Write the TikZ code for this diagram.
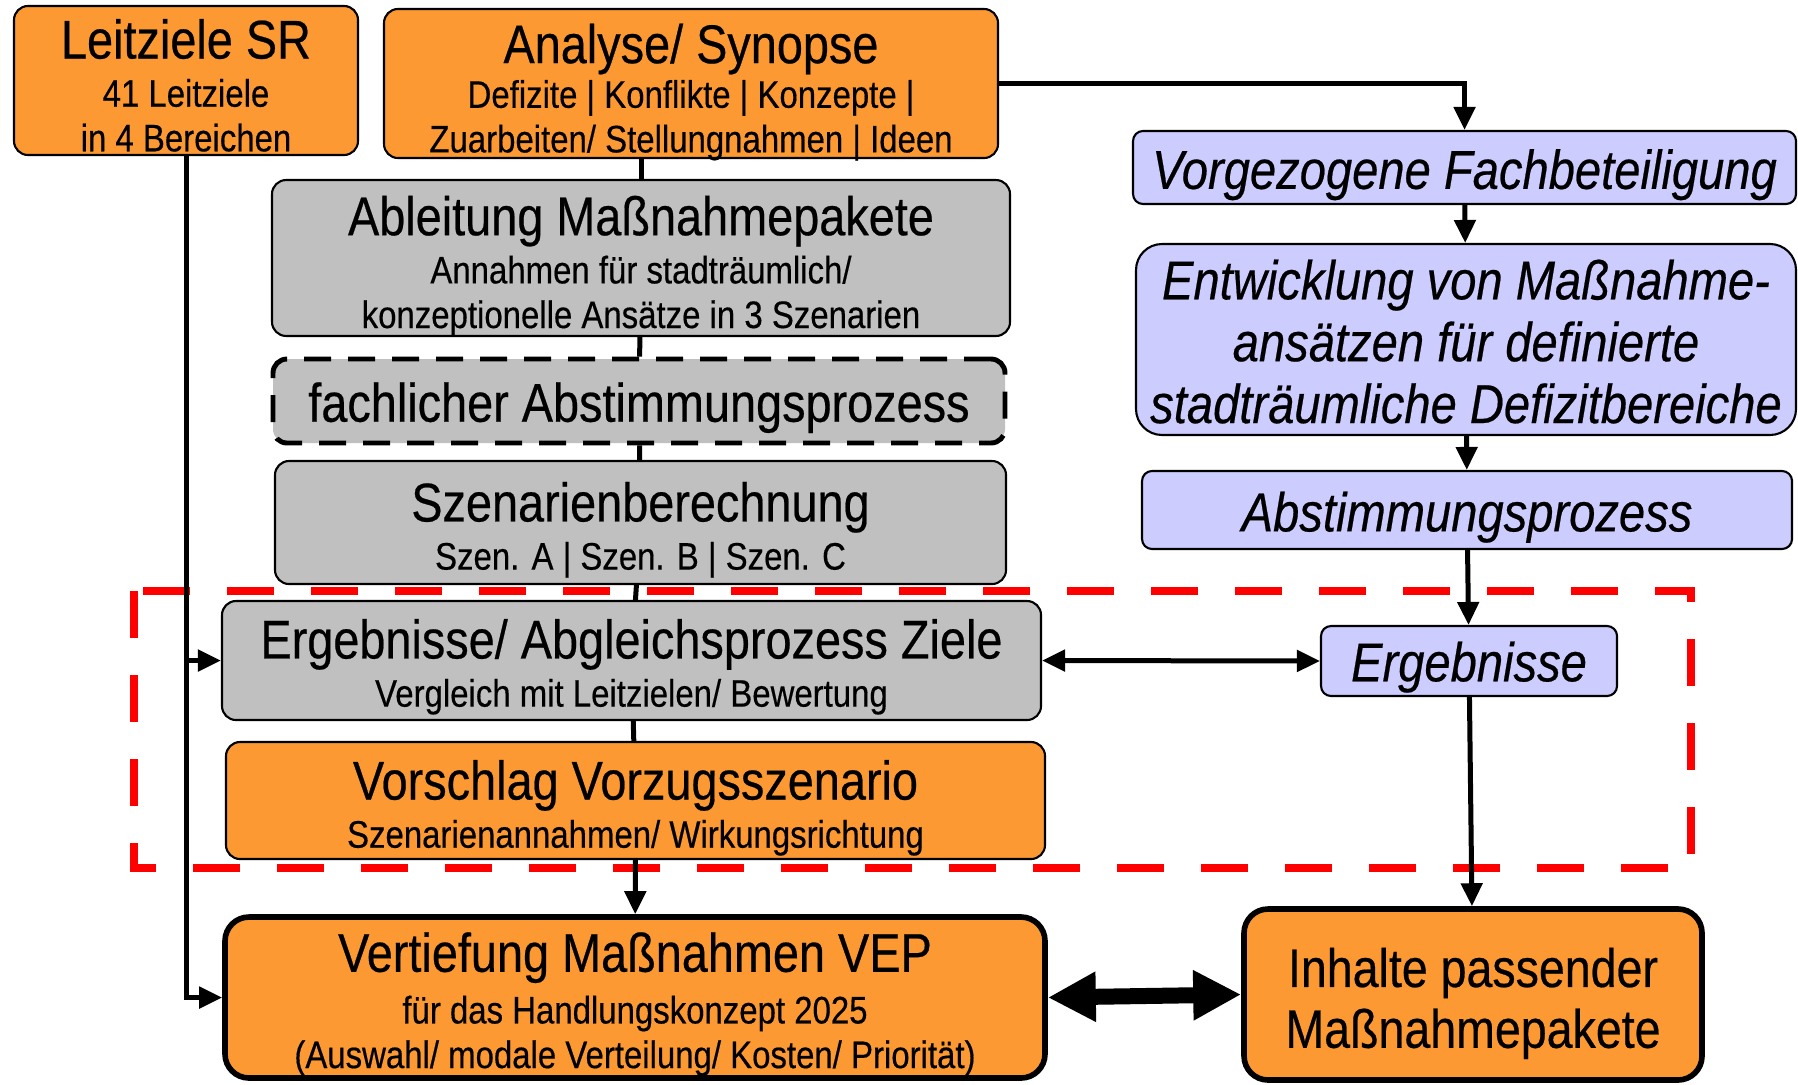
\documentclass[tikz,border=0pt]{standalone}
\usepackage{fontspec}
\setmainfont{Liberation Sans}[FakeStretch=0.86, FakeBold=0.4]
\usepackage{tikz}
\usetikzlibrary{arrows.meta}
\definecolor{vorange}{RGB}{253,153,51}
\definecolor{vgrey}{RGB}{192,192,192}
\definecolor{vlilac}{RGB}{204,204,255}
\definecolor{vred}{RGB}{255,0,0}
% title line of a box, with a strut that pushes the text a little down
\newcommand{\boxhead}[2][15.2pt]{{\fontsize{15.5}{18}\selectfont\rule{0pt}{#1}#2}}

\begin{document}
\begin{tikzpicture}[x=0.1mm, y=-0.1mm,
  box/.style={draw, rounded corners=1.4mm, line width=0.6pt, align=center, inner sep=0pt,
    font=\fontsize{10.9}{12.7}\selectfont},
  orangebox/.style={box, fill=vorange},
  greybox/.style={box, fill=vgrey},
  lilacbox/.style={box, fill=vlilac, rounded corners=1mm, font=\fontsize{15.6}{17.6}\selectfont\itshape},
  thickbox/.style={line width=1.6pt, rounded corners=2.4mm},
  conn/.style={line width=0.5mm},
  arr/.style={conn, -{Triangle[length=2.3mm, width=2.1mm]}},
  dblarr/.style={conn, {Triangle[length=2.3mm, width=2.1mm]}-{Triangle[length=2.3mm, width=2.1mm]}},
  bigarr/.style={line width=1.6mm, {Triangle[length=4.8mm, width=4.7mm]}-{Triangle[length=4.8mm, width=4.7mm]}}]
\useasboundingbox (0,0) rectangle (1798,1084);

% left column
\node[orangebox, minimum width=34.4mm, minimum height=14.9mm] (leit) at (186,80.5)
  {\boxhead[14pt]{Leitziele SR}\\[1pt]41 Leitziele\\in 4 Bereichen};
\node[orangebox, text height=40.8pt, text depth=1.6pt, minimum width=61.4mm, minimum height=14.9mm] (ana) at (691,83.5)
  {\boxhead[0pt]{Analyse/ Synopse}\\Defizite | Konflikte | Konzepte |\\Zuarbeiten/ Stellungnahmen | Ideen};
\node[greybox, minimum width=73.8mm, minimum height=15.4mm] (abl) at (641,258)
  {\boxhead[15.7pt]{Ableitung Maßnahmepakete}\\[1pt]Annahmen für stadträumlich/\\konzeptionelle Ansätze in 3 Szenarien};
\node[greybox, dash pattern=on 2.7mm off 1.7mm, line width=1.4pt, minimum width=73.2mm, minimum height=8.4mm] (fach) at (639,401)
  {\boxhead[15pt]{fachlicher Abstimmungsprozess}};
\node[greybox, minimum width=73.1mm, minimum height=12.3mm] (szen) at (640.5,522.5)
  {\boxhead[15.4pt]{Szenarienberechnung}\\[1pt]Szen. A | Szen. B | Szen. C};
\node[greybox, minimum width=81.9mm, minimum height=11.9mm] (abgl) at (631.5,660.5)
  {\boxhead[14.8pt]{Ergebnisse/ Abgleichsprozess Ziele}\\[1pt]Vergleich mit Leitzielen/ Bewertung};
\node[orangebox, minimum width=81.9mm, minimum height=11.7mm] (vors) at (635.5,800.5)
  {\boxhead[15.4pt]{Vorschlag Vorzugsszenario}\\[1pt]Szenarienannahmen/ Wirkungsrichtung};
\node[orangebox, thickbox, minimum width=82mm, minimum height=16.1mm] (vert) at (635,997.5)
  {\boxhead[15pt]{Vertiefung Maßnahmen VEP}\\[2pt]für das Handlungskonzept 2025\\(Auswahl/ modale Verteilung/ Kosten/ Priorität)};

% right column
\node[lilacbox, minimum width=66.3mm, minimum height=7.3mm] (vorg) at (1464.5,167.5)
  {\rule{0pt}{15.4pt}Vorgezogene Fachbeteiligung};
\node[lilacbox, rounded corners=2.6mm, minimum width=66mm, minimum height=19.1mm] (entw) at (1466,339.5)
  {\rule{0pt}{12.5pt}Entwicklung von Maßnahme-\\ansätzen für definierte\\stadträumliche Defizitbereiche};
\node[lilacbox, minimum width=65mm, minimum height=7.8mm] (abst) at (1467,510)
  {\rule{0pt}{15.4pt}Abstimmungsprozess};
\node[lilacbox, minimum width=29.6mm, minimum height=7mm] (erg) at (1469,661)
  {\rule{0pt}{14.8pt}Ergebnisse};
\node[orangebox, thickbox, font=\fontsize{15.4}{17.3}\selectfont, minimum width=45.8mm, minimum height=17.1mm] (inh) at (1473,994.5)
  {\rule{0pt}{16.2pt}Inhalte passender\\Maßnahmepakete};

% red frame
\draw[vred, line width=2.5pt, dash pattern=on 4.7mm off 3.7mm] (134,591) rectangle (1691,868);

% connectors
\draw[arr] (leit.south) |- (vert.west);
\draw[arr] (leit.south) |- (abgl.west);
\draw[conn] (ana.south -| abl.north) -- (abl.north);
\draw[conn] (abl) -- (fach);
\draw[conn] (fach) -- (szen);
\draw[conn] (szen) -- (abgl);
\draw[conn] (abgl) -- (vors);
\draw[arr] (vors) -- (vert);
\draw[arr] (ana.east) -| (vorg.north);
\draw[arr] (vorg) -- (entw);
\draw[arr] (entw) -- (abst);
\draw[arr] (abst) -- (erg);
\draw[arr] (erg) -- (inh);
\draw[dblarr] (abgl.east) -- (erg.west);
\draw[bigarr] (vert.east) -- (inh.west);
\end{tikzpicture}
\end{document}
